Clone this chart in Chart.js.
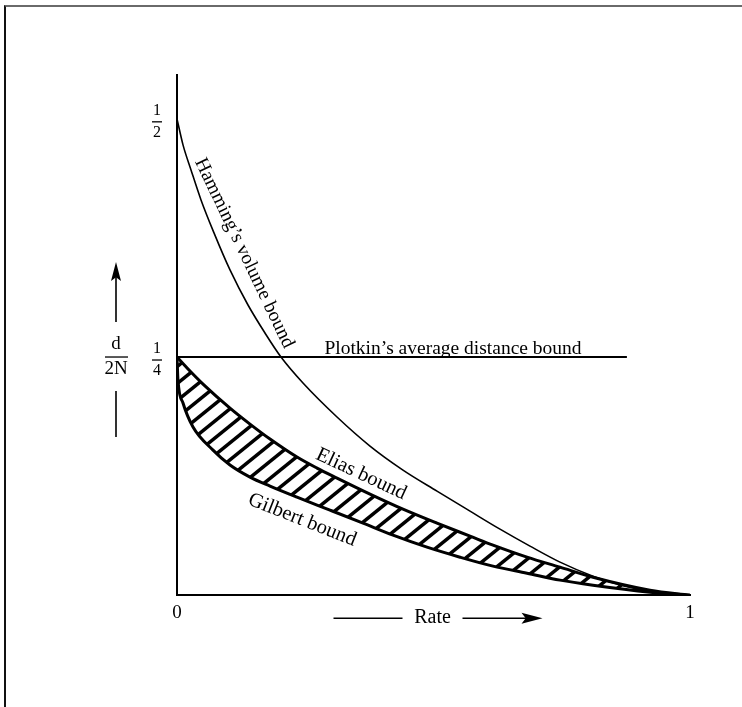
<!DOCTYPE html>
<html lang="en">
<head>
<meta charset="UTF-8" />
<title>Bounds on d/2N versus rate</title>
<!-- Chart.js v4 -->
<script src="https://cdn.jsdelivr.net/npm/chart.js@4.4.1/dist/chart.umd.min.js"></script>
<style>
    html, body { margin: 0; padding: 0; background: #fff; overflow: hidden; }
    body { position: relative; width: 742px; height: 707px; }
    /* the thin frame round the figure: only top and left edges show */
    #frame {
        position: absolute; left: 4px; top: 5px; width: 780px; height: 760px;
        border-top: 2px solid #6a6a6a; border-left: 2px solid #111;
    }
    #chart { position: absolute; left: 0; top: 0; }
</style>
</head>
<body>
<div id="frame"></div>
<canvas id="chart" width="742" height="707"></canvas>

<script>
    // ---- data (rate on x, d/2N on y) ----
    const hammingRate  = [0, 0.0117, 0.0273, 0.0468, 0.0721, 0.1033, 0.1384, 0.1715, 0.2027, 0.2456, 0.3119, 0.3762,
                          0.4405, 0.5068, 0.5712, 0.6296, 0.6881, 0.7466, 0.8109, 0.8733, 0.9220, 1];
    const hammingBound = [0.5, 0.4727, 0.4464, 0.4149, 0.3803, 0.3414, 0.3046, 0.2752, 0.25, 0.2227, 0.1870, 0.1565,
                          0.1313, 0.1092, 0.0882, 0.0693, 0.0515, 0.0347, 0.0200, 0.0095, 0.0042, 0];

    const plotkinRate  = [0, 0.877];
    const plotkinBound = [0.25, 0.25];

    const eliasRate  = [0, 0.0253, 0.0507, 0.1033, 0.1423, 0.1813, 0.2339, 0.2729, 0.3119, 0.3762, 0.4405,
                        0.5068, 0.5712, 0.6160, 0.6823, 0.7466, 0.8109, 0.9220, 1];
    const eliasBound = [0.25, 0.2353, 0.2216, 0.1964, 0.1796, 0.1639, 0.1450, 0.1334, 0.1229, 0.1061, 0.0903,
                        0.0756, 0.0620, 0.0525, 0.0399, 0.0294, 0.0189, 0.0053, 0];

    const gilbertRate  = [0, 0.0019, 0.0117, 0.0312, 0.0702, 0.1033, 0.1423, 0.1813, 0.2339, 0.2982, 0.3626,
                          0.4211, 0.4873, 0.5517, 0.6160, 0.6823, 0.7466, 0.8109, 0.9220, 1];
    const gilbertBound = [0.25, 0.2258, 0.2017, 0.1765, 0.1523, 0.1366, 0.1239, 0.1145, 0.1029, 0.0893, 0.0756,
                          0.0630, 0.0504, 0.0399, 0.0305, 0.0231, 0.0158, 0.0105, 0.0032, 0];

    // y tick labels are fractions 1/2 and 1/4
    const yTickValues = [0.5, 0.25];
    const yTickNums   = ['1', '1'];
    const yTickDens   = ['2', '4'];

    // labels written along the curves (anchor in data units, angle in degrees)
    const curveLabels = ['Hamming\u2019s volume bound', 'Elias bound', 'Gilbert bound'];
    const labelRate   = [0.131, 0.359, 0.244];
    const labelBound  = [0.359, 0.127, 0.079];
    const labelAngle  = [64.5, 25, 21.5];

    const plotkinLabel = 'Plotkin\u2019s average distance bound';
    const plotkinLabelRate = 0.538;

    const SERIF = '"Liberation Serif", "Times New Roman", serif';

    const toPoints = (xs, ys) => xs.map((x, i) => ({ x: x, y: ys[i] }));

    const canvas = document.getElementById('chart');
    const ctx = canvas.getContext('2d');

    // diagonal hatching used between the Elias and Gilbert curves.
    // big tile (10 x 10 periods) so tile seams hardly ever fall on a stroke
    function hatchPattern() {
        const w = 21, h = 17, n = 10;
        const W = w * n, H = h * n;
        const tile = document.createElement('canvas');
        tile.width = W; tile.height = H;
        const g = tile.getContext('2d');
        g.strokeStyle = '#000';
        g.lineWidth = 3.5;
        for (let k = -n - 1; k <= n + 1; k++) {
            g.beginPath();
            g.moveTo(k * w - w, H + h);
            g.lineTo(k * w + W + w, -h);
            g.stroke();
        }
        return ctx.createPattern(tile, 'repeat');
    }

    function arrowHead(c, x, y, dx, dy, len, half) {
        // tip at (x,y), pointing along (dx,dy)
        const nx = -dy, ny = dx;
        c.beginPath();
        c.moveTo(x, y);
        c.lineTo(x - dx * len + nx * half, y - dy * len + ny * half);
        c.lineTo(x - dx * len * 0.8, y - dy * len * 0.8);
        c.lineTo(x - dx * len - nx * half, y - dy * len - ny * half);
        c.closePath();
        c.fill();
    }

    const textPlugin = {
        id: 'figureText',
        afterDraw(chart) {
            const c = chart.ctx;
            const xs = chart.scales.x, ys = chart.scales.y;
            const area = chart.chartArea;
            c.save();
            c.fillStyle = '#000';
            c.strokeStyle = '#000';

            // fraction tick labels on the y axis
            c.font = '16px ' + SERIF;
            c.textAlign = 'center';
            c.textBaseline = 'middle';
            yTickValues.forEach((v, i) => {
                const py = ys.getPixelForValue(v);
                const px = area.left - 20;
                c.fillText(yTickNums[i], px, py - 8);
                c.fillText(yTickDens[i], px, py + 14);
                c.lineWidth = 1.3;
                c.beginPath();
                c.moveTo(px - 5, py + 3);
                c.lineTo(px + 5, py + 3);
                c.stroke();
            });

            // y axis title  d / 2N  with arrow
            const tx = area.left - 61;
            const ty = ys.getPixelForValue(0.25);
            c.font = '19px ' + SERIF;
            c.fillText('d', tx, ty - 13);
            c.fillText('2N', tx, ty + 12);
            c.lineWidth = 1.3;
            c.beginPath();
            c.moveTo(tx - 11, ty); c.lineTo(tx + 12, ty);
            c.stroke();
            c.lineWidth = 1.6;
            c.beginPath();
            c.moveTo(tx, ty - 35); c.lineTo(tx, ty - 88);
            c.moveTo(tx, ty + 34); c.lineTo(tx, ty + 80);
            c.stroke();
            arrowHead(c, tx, ty - 95, 0, -1, 19, 5);

            // x axis title  Rate  with arrows
            const rx = (area.left + area.right) / 2;
            const ry = area.bottom + 23;
            c.font = '20px ' + SERIF;
            c.fillText('Rate', rx - 1, ry);
            c.lineWidth = 1.6;
            c.beginPath();
            c.moveTo(rx - 100, ry); c.lineTo(rx - 31, ry);
            c.moveTo(rx + 29, ry); c.lineTo(rx + 100, ry);
            c.stroke();
            arrowHead(c, rx + 109, ry, 1, 0, 21, 5.5);

            // Plotkin label sits just above its line
            c.font = '19.5px ' + SERIF;
            c.textBaseline = 'alphabetic';
            c.fillText(plotkinLabel, xs.getPixelForValue(plotkinLabelRate), ys.getPixelForValue(0.25) - 3);

            // rotated labels along the curves
            c.textBaseline = 'middle';
            curveLabels.forEach((txt, i) => {
                c.save();
                c.translate(xs.getPixelForValue(labelRate[i]), ys.getPixelForValue(labelBound[i]));
                c.rotate(labelAngle[i] * Math.PI / 180);
                c.font = (i === 0 ? '19.5px ' : '20.5px ') + SERIF;
                c.fillText(txt, 0, 0);
                c.restore();
            });
            c.restore();
        }
    };

    new Chart(canvas, {
        type: 'line',
        data: {
            datasets: [
                {
                    label: 'Hamming',
                    data: toPoints(hammingRate, hammingBound),
                    borderColor: '#000',
                    borderWidth: 1.6,
                    cubicInterpolationMode: 'monotone',
                    fill: false
                },
                {
                    label: 'Plotkin',
                    data: toPoints(plotkinRate, plotkinBound),
                    borderColor: '#000',
                    borderWidth: 1.8,
                    fill: false
                },
                {
                    label: 'Elias',
                    data: toPoints(eliasRate, eliasBound),
                    borderColor: '#000',
                    borderWidth: 3,
                    cubicInterpolationMode: 'monotone',
                    backgroundColor: hatchPattern(),
                    fill: '+1'
                },
                {
                    label: 'Gilbert',
                    data: toPoints(gilbertRate, gilbertBound),
                    borderColor: '#000',
                    borderWidth: 3,
                    cubicInterpolationMode: 'monotone',
                    fill: false
                }
            ]
        },
        options: {
            responsive: false,
            animation: false,
            events: [],
            parsing: false,
            elements: { point: { radius: 0 } },
            layout: { padding: { left: 177, right: 52, top: 75, bottom: 77 } },
            plugins: {
                legend: { display: false },
                tooltip: { enabled: false }
            },
            scales: {
                x: {
                    type: 'linear',
                    min: 0,
                    max: 1,
                    grid: { display: false, drawTicks: false },
                    border: { display: true, color: '#000', width: 2 },
                    ticks: {
                        stepSize: 1,
                        color: '#000',
                        padding: 6,
                        maxRotation: 0,
                        autoSkip: false,
                        font: { family: SERIF, size: 19 }
                    }
                },
                y: {
                    type: 'linear',
                    min: 0,
                    max: 0.546,
                    grid: { display: false, drawTicks: false },
                    border: { display: true, color: '#000', width: 2 },
                    ticks: { display: false },
                    afterFit: (s) => { s.width = 0; }
                }
            }
        },
        plugins: [textPlugin]
    });
</script>
</body>
</html>
